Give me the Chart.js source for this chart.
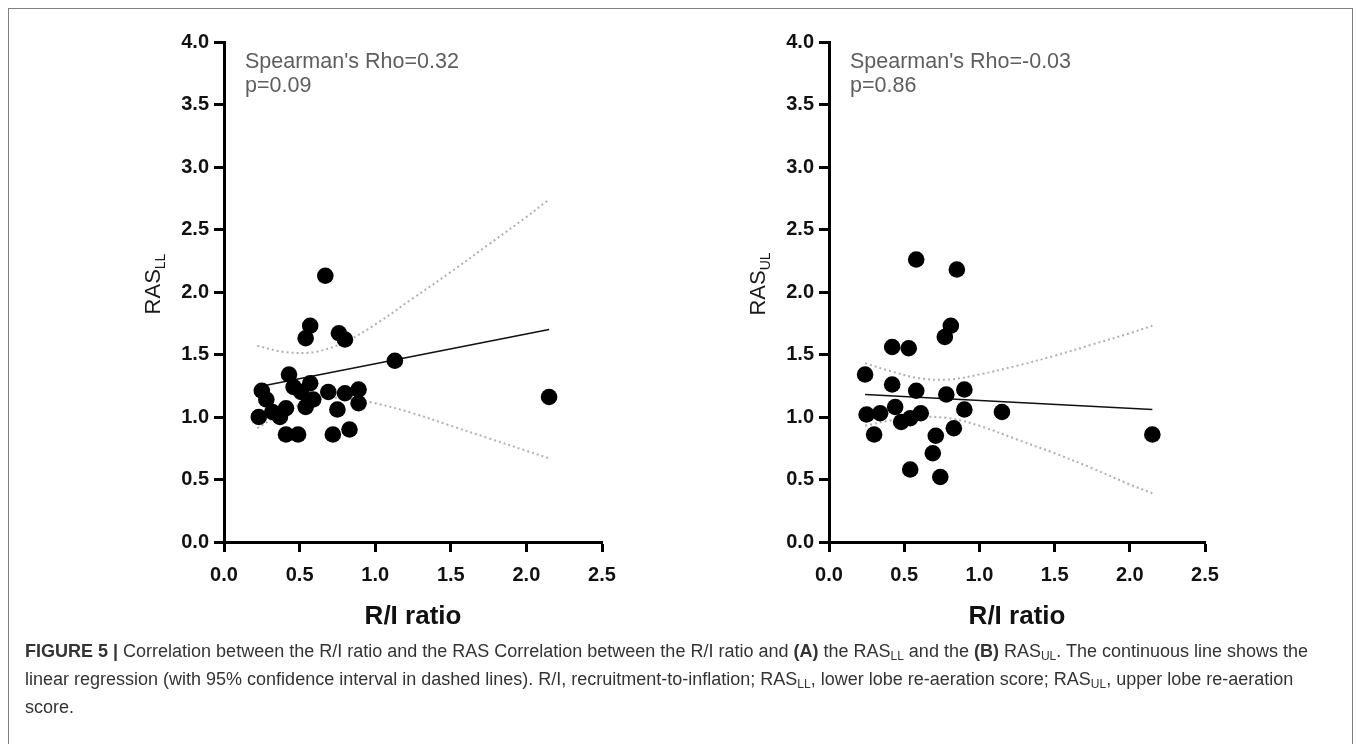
<!DOCTYPE html>
<html>
<head>
<meta charset="utf-8">
<script src="https://cdn.jsdelivr.net/npm/chart.js@4.4.1/dist/chart.umd.min.js"></script>
<style>
  html, body { margin: 0; padding: 0; background: #fff; width: 1357px; height: 744px; overflow: hidden; }
  #frame { position: absolute; left: 8px; top: 8px; width: 1345px; height: 800px; border: 1.5px solid #808080; box-sizing: border-box; }
  .cv { position: absolute; top: 0; }
  #caption { position: absolute; left: 25px; top: 637px; font-family: "Liberation Sans", Arial, sans-serif; font-size: 18px; line-height: 28px; color: #333; white-space: nowrap; }
  #caption sub { font-size: 12px; vertical-align: -3px; line-height: 0; }
</style>
</head>
<body>
<div id="frame"></div>
<div class="cv" style="left:60px;width:582px;height:660px;"><canvas id="chartA"></canvas></div>
<div class="cv" style="left:665px;width:582px;height:660px;"><canvas id="chartB"></canvas></div>
<div id="caption"><b>FIGURE 5 |</b> Correlation between the R/I ratio and the RAS Correlation between the R/I ratio and <b>(A)</b> the RAS<sub>LL</sub> and the <b>(B)</b> RAS<sub>UL</sub>. The continuous line shows the<br>linear regression (with 95% confidence interval in dashed lines). R/I, recruitment-to-inflation; RAS<sub>LL</sub>, lower lobe re-aeration score; RAS<sub>UL</sub>, upper lobe re-aeration<br>score.</div>
<script>
// ---------- data ----------
const xTickValues = [0, 0.5, 1.0, 1.5, 2.0, 2.5];
const yTickValues = [0, 0.5, 1.0, 1.5, 2.0, 2.5, 3.0, 3.5, 4.0];

// Panel A: R/I ratio vs RAS_LL
const riA  = [0.67, 0.57, 0.54, 0.76, 0.80, 1.13, 0.43, 0.25, 0.28, 0.23, 0.32, 0.37, 0.41, 0.46, 0.51, 0.57, 0.54, 0.59, 0.69, 0.75, 0.80, 0.89, 0.89, 0.41, 0.49, 0.72, 0.83, 2.15];
const rasLL = [2.13, 1.73, 1.63, 1.67, 1.62, 1.45, 1.34, 1.21, 1.14, 1.00, 1.04, 1.00, 1.07, 1.24, 1.20, 1.27, 1.08, 1.14, 1.20, 1.06, 1.19, 1.22, 1.11, 0.86, 0.86, 0.86, 0.90, 1.16];
const fitXA = [0.22, 2.15];
const fitYA = [1.24, 1.70];
const ciXA = [0.22, 0.4, 0.6, 0.8, 1.0, 1.25, 1.5, 1.75, 2.0, 2.15];
const ciUpA = [1.57, 1.52, 1.52, 1.60, 1.74, 1.95, 2.16, 2.38, 2.60, 2.74];
const ciLoA = [0.91, 1.04, 1.14, 1.15, 1.11, 1.03, 0.93, 0.83, 0.73, 0.67];

// Panel B: R/I ratio vs RAS_UL
const riB  = [0.58, 0.85, 0.81, 0.77, 0.42, 0.53, 0.24, 0.42, 0.58, 0.78, 0.90, 0.90, 1.15, 0.25, 0.34, 0.44, 0.48, 0.54, 0.61, 0.30, 0.83, 0.71, 0.69, 0.54, 0.74, 2.15];
const rasUL = [2.26, 2.18, 1.73, 1.64, 1.56, 1.55, 1.34, 1.26, 1.21, 1.18, 1.22, 1.06, 1.04, 1.02, 1.03, 1.08, 0.96, 0.99, 1.03, 0.86, 0.91, 0.85, 0.71, 0.58, 0.52, 0.86];
const fitXB = [0.24, 2.15];
const fitYB = [1.18, 1.06];
const ciXB = [0.24, 0.4, 0.6, 0.8, 1.0, 1.25, 1.5, 1.75, 2.0, 2.15];
const ciUpB = [1.43, 1.37, 1.31, 1.30, 1.34, 1.41, 1.49, 1.58, 1.67, 1.73];
const ciLoB = [0.93, 0.97, 1.00, 0.99, 0.93, 0.82, 0.71, 0.59, 0.46, 0.39];

const xTitle = "R/I ratio";
const statsA = ["Spearman's Rho=0.32", "p=0.09"];
const statsB = ["Spearman's Rho=-0.03", "p=0.86"];

// ---------- helpers ----------
const FONT = "'Liberation Sans', Arial, sans-serif";
function pts(xs, ys) { return xs.map((x, i) => ({ x: x, y: ys[i] })); }

const annotPlugin = {
  id: 'annot',
  afterDraw(chart, args, opts) {
    const ctx = chart.ctx;
    const xs = chart.scales.x, ys = chart.scales.y;
    ctx.save();
    // stats text
    ctx.fillStyle = '#5e5e5e';
    ctx.font = '21.5px ' + FONT;
    ctx.textBaseline = 'middle';
    ctx.textAlign = 'left';
    ctx.fillText(opts.stats[0], xs.left + 21, ys.top + 20);
    ctx.fillText(opts.stats[1], xs.left + 21, ys.top + 44);
    // y title with subscript
    const cx = xs.left - 72, cy = (ys.top + ys.bottom) / 2 - 8;
    ctx.translate(cx, cy);
    ctx.rotate(-Math.PI / 2);
    ctx.fillStyle = '#1a1a1a';
    ctx.font = '22px ' + FONT;
    const mainW = ctx.measureText('RAS').width;
    ctx.font = '14px ' + FONT;
    const subW = ctx.measureText(opts.sub).width;
    const start = -(mainW + subW) / 2;
    ctx.textAlign = 'left';
    ctx.textBaseline = 'alphabetic';
    ctx.font = '22px ' + FONT;
    ctx.fillText('RAS', start, 8);
    ctx.font = '14px ' + FONT;
    ctx.fillText(opts.sub, start + mainW, 13);
    ctx.restore();
  }
};

function makeChart(id, xs, ys, fx, fy, cx, cu, cl, stats, sub, padRight) {
  const ciStyle = { borderColor: '#b0b0b0', borderWidth: 2, borderDash: [2, 3], pointRadius: 0, showLine: true, fill: false, tension: 0.35 };
  return new Chart(document.getElementById(id), {
    type: 'scatter',
    data: {
      datasets: [
        { data: pts(xs, ys), backgroundColor: '#000', borderColor: '#000', pointRadius: 8.3, pointHoverRadius: 8.3, pointBorderWidth: 0 },
        { data: pts(fx, fy), borderColor: '#111', borderWidth: 1.6, pointRadius: 0, showLine: true },
        Object.assign({ data: pts(cx, cu) }, ciStyle),
        Object.assign({ data: pts(cx, cl) }, ciStyle)
      ]
    },
    plugins: [annotPlugin],
    options: {
      responsive: true,
      maintainAspectRatio: false,
      animation: false,
      events: [],
      layout: { padding: { left: 0, right: padRight, top: 42, bottom: 0 } },
      plugins: { legend: { display: false }, tooltip: { enabled: false }, annot: { stats: stats, sub: sub } },
      scales: {
        x: {
          type: 'linear', min: 0, max: 2.5,
          afterBuildTicks: (s) => { s.ticks = xTickValues.map(v => ({ value: v })); },
          afterFit: (s) => { s.height = 118; },
          border: { display: true, color: '#000', width: 3 },
          grid: { drawOnChartArea: false, drawTicks: true, tickLength: 10, tickWidth: 3, color: '#000' },
          ticks: { color: '#111', padding: 11, font: { family: FONT, size: 20, weight: 'bold' }, callback: (v) => v.toFixed(1), maxRotation: 0 },
          title: { display: true, text: xTitle, color: '#111', font: { family: FONT, size: 26, weight: 'bold' }, padding: { top: 0, bottom: 28 } }
        },
        y: {
          type: 'linear', min: 0, max: 4,
          afterBuildTicks: (s) => { s.ticks = yTickValues.map(v => ({ value: v })); },
          afterFit: (s) => { s.width = 164; },
          border: { display: true, color: '#000', width: 3 },
          grid: { drawOnChartArea: false, drawTicks: true, tickLength: 10, tickWidth: 3, color: '#000' },
          ticks: { color: '#111', padding: 5, font: { family: FONT, size: 20, weight: 'bold' }, callback: (v) => v.toFixed(1) }
        }
      }
    }
  });
}

makeChart('chartA', riA, rasLL, fitXA, fitYA, ciXA, ciUpA, ciLoA, statsA, 'LL', 40);
makeChart('chartB', riB, rasUL, fitXB, fitYB, ciXB, ciUpB, ciLoB, statsB, 'UL', 42);
</script>
</body>
</html>
